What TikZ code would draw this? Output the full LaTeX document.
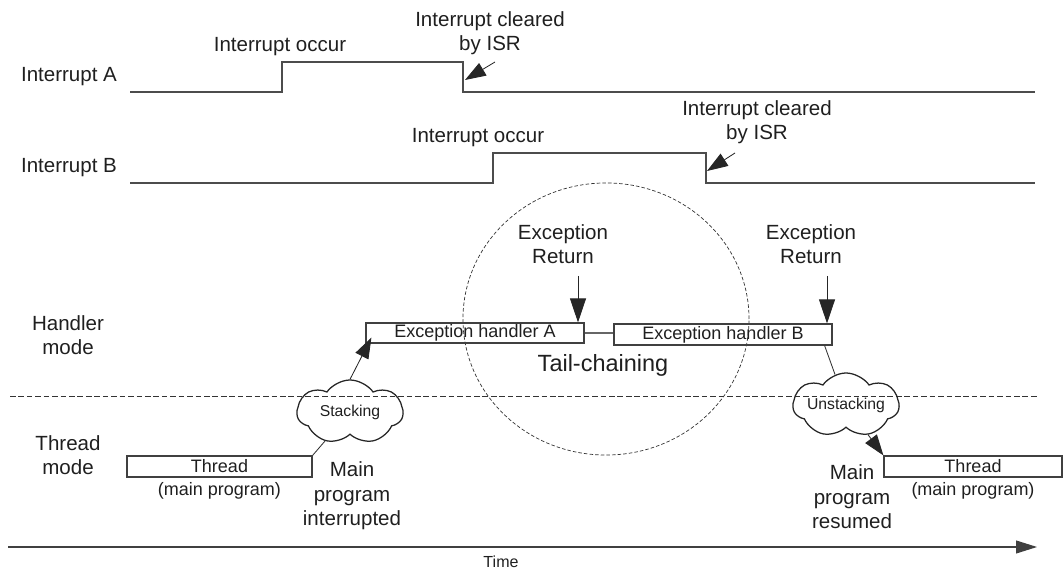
\documentclass[tikz,border=0pt]{standalone}
\usepackage{fontspec}
\setmainfont{Liberation Sans}
\usepackage{tikz}
\usetikzlibrary{shapes, shapes.symbols, arrows.meta, positioning, calc}

\begin{document}
\begin{tikzpicture}[
    x=0.025cm, y=-0.025cm,
    label/.style={align=center, inner sep=0pt, text=black!88, font=\fontsize{14.6}{17.4}\selectfont},
    modebox/.style={rectangle, draw=black!75, line width=0.8pt, minimum height=0.5cm, inner sep=0pt, text=black!88, font=\fontsize{12.8}{15}\selectfont},
    stackcloud/.style={cloud, cloud puffs=7, cloud puff arc=110, cloud ignores aspect, draw=black!85, line width=0.9pt, minimum width=2.65cm, minimum height=1.6cm, inner sep=0pt, text=black!88, font=\fontsize{11.2}{13}\selectfont},
    signal/.style={draw=black!70, line width=0.8pt},
    arrow/.style={-{Triangle[length=6mm, width=4mm]}, black!85, line width=0.6pt},
    smallarrow/.style={-{Triangle[length=5.2mm, width=3.6mm]}, black!85, line width=0.6pt},
    divider/.style={black!80, line width=0.6pt, dash pattern=on 4pt off 2pt}
]
\useasboundingbox (0,0) rectangle (1064,569);

% Interrupt signals
\node[label] (irqA) at (69,77) {Interrupt A};
\node[label] (irqB) at (69,168) {Interrupt B};
\draw[signal] (130,92) -- (282,92) -- (282,62) -- (463,62) -- (463,92) -- (1035,92);
\draw[signal] (130,183) -- (493,183) -- (493,153) -- (706,153) -- (706,183) -- (1035,183);

\node[label] (occA) at (280,47) {Interrupt occur};
\node[label] (occB) at (478,138) {Interrupt occur};
\node[label] (clrA) at (490,33) {Interrupt cleared\\by ISR};
\node[label] (clrB) at (757,122) {Interrupt cleared\\by ISR};
\coordinate (clrAstart) at (495,62);
\coordinate (clrAtip) at (465,80);
\coordinate (clrBstart) at (735,153);
\coordinate (clrBtip) at (707,171);
\draw[smallarrow] (clrAstart) -- (clrAtip);
\draw[smallarrow] (clrBstart) -- (clrBtip);

% Modes
\node[label] (handlermode) at (68,335) {Handler\\mode};
\node[label] (threadmode) at (68,455) {Thread\\mode};
\draw[divider] (10,396) -- (1038,396);

% Tail-chaining
\draw[black!80, line width=0.5pt, dash pattern=on 2.5pt off 1.5pt] (606,319) ellipse [x radius=3.575cm, y radius=3.4cm];
\node[modebox, minimum width=5.45cm] (hA) at (475,333) {Exception handler A};
\node[modebox, minimum width=5.45cm, minimum height=0.525cm] (hB) at (723,334.5) {Exception handler B};
\draw[black!60, line width=0.8pt] (hA.east) -- (hA.east -| hB.west);
\node[label, font=\fontsize{16.7}{19}\selectfont] (tail) at (603,365) {Tail-chaining};

\node[label] (retA) at (563,244) {Exception\\Return};
\node[label] (retB) at (811,244) {Exception\\Return};
\coordinate (retAstart) at (578,276);
\coordinate (retBstart) at (827,276);
\draw[arrow] (retAstart) -- (retAstart |- hA.north);
\draw[arrow] (retBstart) -- (retBstart |- hB.north);

% Thread
\node[modebox, minimum width=4.625cm, minimum height=0.525cm] (th1) at (219.5,466.5) {Thread};
\node[label, font=\fontsize{12.8}{15}\selectfont, below=1.2mm of th1] (main1) {(main program)};
\node[modebox, minimum width=4.45cm, minimum height=0.525cm] (th2) at (973,466.5) {Thread};
\node[label, font=\fontsize{12.8}{15}\selectfont, below=1.2mm of th2] (main2) {(main program)};
\node[label] (interrupted) at (352,496) {Main\\program\\interrupted};
\node[label] (resumed) at (852,497) {Main\\program\\resumed};

% Stacking / Unstacking
\node[stackcloud] (stack) at (350,412) {Stacking};
\node[stackcloud] (unstack) at (846,405) {Unstacking};
\draw[black!80, line width=0.6pt] (th1.north east) -- (stack);
\draw[smallarrow] (stack.north) -- ($(hA.south west)+(6,-6)$);
\draw[black!80, line width=0.6pt] ($(hB.south east)+(-8,0)$) -- (unstack);
\draw[smallarrow] (unstack) -- (th2.north west);

% Time
\draw[-{Triangle[length=5.2mm, width=3.2mm]}, black!75, line width=0.8pt] (8,547) -- (1037,547);
\node[label, font=\fontsize{11.4}{13}\selectfont] (time) at (501,562) {Time};

\end{tikzpicture}
\end{document}
